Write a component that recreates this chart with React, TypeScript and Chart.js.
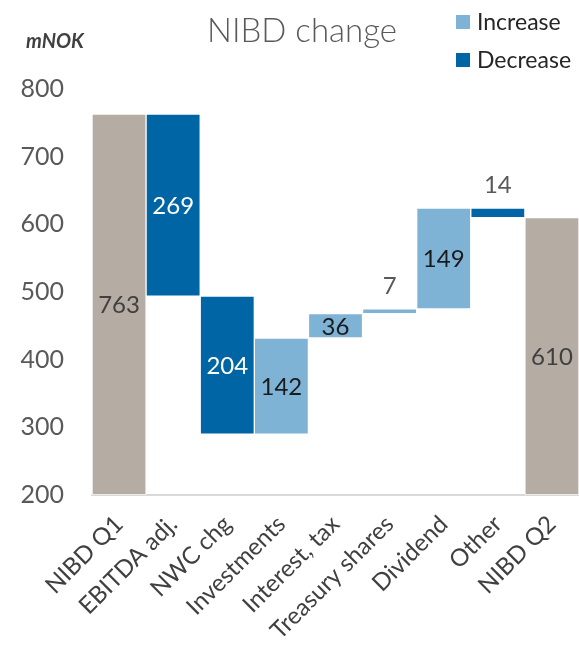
import React, { useEffect, useRef } from 'react';
import { Chart, registerables } from 'chart.js';

Chart.register(...registerables);

const categories = ['NIBD Q1', 'EBITDA adj.', 'NWC chg', 'Investments', 'Interest, tax', 'Treasury shares', 'Dividend', 'Other', 'NIBD Q2'];
const changes = [763, -269, -204, 142, 36, 7, 149, -14, 610];
const kinds = ['total', 'decrease', 'decrease', 'increase', 'increase', 'increase', 'increase', 'decrease', 'total'];
const yTicks = [200, 300, 400, 500, 600, 700, 800];
const legendLabels = ['Increase', 'Decrease'];
const titleText = 'NIBD change';
const unitText = 'mNOK';

const COLORS: Record<string, string> = {
  total: '#b5aca4',
  increase: '#7fb3d5',
  decrease: '#0065a4',
};
const LABEL_COLORS: Record<string, string> = {
  total: '#404040',
  increase: '#1a1a1a',
  decrease: '#ffffff',
};

function buildRanges(): [number, number][] {
  const out: [number, number][] = [];
  let running = 0;
  changes.forEach((v, i) => {
    if (kinds[i] === 'total') {
      out.push([yTicks[0], v]);
      running = v;
    } else {
      const end = running + v;
      out.push([running, end]);
      running = end;
    }
  });
  return out;
}

const decorPlugin = {
  id: 'decor',
  afterDatasetsDraw(chart: any) {
    const ctx = chart.ctx;
    const meta = chart.getDatasetMeta(0);
    ctx.save();
    ctx.textAlign = 'center';
    ctx.textBaseline = 'middle';
    ctx.font = '24px Lato';
    meta.data.forEach((el: any, i: number) => {
      const { x, y, base } = el.getProps(['x', 'y', 'base'], true);
      const top = Math.min(y, base);
      const bottom = Math.max(y, base);
      const small = bottom - top < 12;
      ctx.fillStyle = small ? '#595959' : LABEL_COLORS[kinds[i]];
      ctx.fillText(String(Math.abs(changes[i])), x, small ? top - 23 : (top + bottom) / 2 + 1);
    });
    ctx.restore();
  },
  afterDraw(chart: any) {
    const ctx = chart.ctx;
    ctx.save();
    // title
    ctx.font = '300 33px Lato';
    ctx.fillStyle = '#595959';
    ctx.textAlign = 'center';
    ctx.textBaseline = 'alphabetic';
    ctx.fillText(titleText, 302, 42);
    // unit
    ctx.font = 'italic bold 20px Lato';
    ctx.fillStyle = '#404040';
    ctx.textAlign = 'left';
    ctx.fillText(unitText, 26, 48);
    // legend
    const legendColors = [COLORS.increase, COLORS.decrease];
    legendLabels.forEach((lab, i) => {
      const cy = 22 + i * 38;
      ctx.fillStyle = legendColors[i];
      ctx.fillRect(456, cy - 7, 14, 14);
      ctx.font = '23px Lato';
      ctx.fillStyle = '#262626';
      ctx.textBaseline = 'middle';
      ctx.fillText(lab, 477, cy + 1);
    });
    ctx.restore();
  },
};

export default function App() {
  const ref = useRef<HTMLCanvasElement | null>(null);
  useEffect(() => {
    if (!ref.current) return;
    const ranges = buildRanges();
    const chart = new Chart(ref.current, {
      type: 'bar',
      data: {
        labels: categories,
        datasets: [
          {
            data: ranges as any,
            backgroundColor: kinds.map((k) => COLORS[k]),
            borderColor: '#ffffff',
            borderWidth: 1,
            borderSkipped: false,
            barPercentage: 1,
            categoryPercentage: 1,
          },
        ],
      },
      options: {
        responsive: false,
        animation: false,
        layout: { padding: { top: 89, left: 0, right: 0, bottom: 0 } },
        plugins: { legend: { display: false }, title: { display: false }, tooltip: { enabled: false } },
        scales: {
          x: {
            grid: { display: false, drawTicks: false },
            border: { display: true, color: '#d9d9d9', width: 2 },
            ticks: {
              color: '#404040',
              font: { family: 'Lato', size: 24 },
              minRotation: 45,
              maxRotation: 45,
              autoSkip: false,
              padding: 15,
            },
            afterFit: (s: any) => {
              s.height = 150;
              s.paddingLeft = 0;
              s.paddingRight = 0;
            },
          },
          y: {
            min: yTicks[0],
            max: yTicks[yTicks.length - 1],
            grid: { display: false, drawTicks: false },
            border: { display: false },
            ticks: {
              stepSize: 100,
              color: '#595959',
              font: { family: 'Lato', size: 25 },
              padding: 28,
            },
            afterFit: (s: any) => {
              s.width = 92;
            },
          },
        },
      },
      plugins: [decorPlugin],
    });
    return () => chart.destroy();
  }, []);
  return (
    <div style={{ position: 'fixed', left: 0, top: 0, width: 579, height: 645, background: '#fff' }}>
      <canvas ref={ref} width={579} height={645} style={{ display: 'block' }} />
    </div>
  );
}
